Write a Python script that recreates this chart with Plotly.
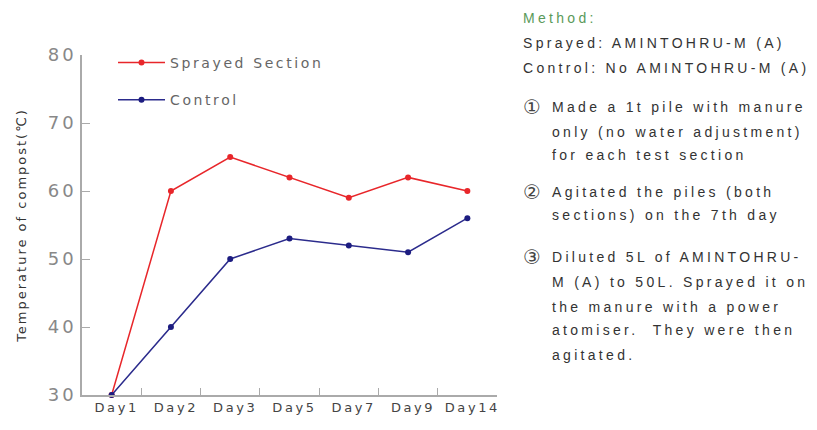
import plotly.graph_objects as go

days = ["Day1", "Day2", "Day3", "Day5", "Day7", "Day9", "Day14"]
sprayed = [30, 60, 65, 62, 59, 62, 60]
control = [30, 40, 50, 53, 52, 51, 56]
y_ticks = [30, 40, 50, 60, 70, 80]

method_title = "Method:"
method_lines = [
    ("", "Sprayed: AMINTOHRU-M (A)", 43),
    ("", "Control: No AMINTOHRU-M (A)", 68),
    ("①", "Made a 1t pile with manure", 107),
    ("", "only (no water adjustment)", 132),
    ("", "for each test section", 155),
    ("②", "Agitated the piles (both", 192),
    ("", "sections) on the 7th day", 215),
    ("③", "Diluted 5L of AMINTOHRU-", 257),
    ("", "M (A) to 50L. Sprayed it on", 282),
    ("", "the manure with a power", 307),
    ("", "atomiser.  They were then", 330),
    ("", "agitated.", 355),
]

W, H = 817, 430
L, R, T, B = 82, 497, 55, 395
FONT = "DejaVu Sans"
NOTE_FONT = "Liberation Sans"

fig = go.Figure()
fig.add_trace(go.Scatter(x=days, y=sprayed, name="Sprayed Section", mode="lines+markers",
                         line=dict(color="#e8262a", width=1.5),
                         marker=dict(color="#e8262a", size=6, symbol="circle"),
                         cliponaxis=False, legendgroup="a"))
fig.add_trace(go.Scatter(x=days, y=control, name="Control", mode="lines+markers",
                         line=dict(color="#2b2b8c", width=1.5),
                         marker=dict(color="#1c1c80", size=6, symbol="circle"),
                         cliponaxis=False, legendgroup="b"))


def px(x):
    return (x - L) / (R - L)


def py(y):
    return (B - y) / (B - T)


ann = [dict(text=method_title, x=px(521), y=py(18), xref="paper", yref="paper",
            xanchor="left", yanchor="middle", align="left", showarrow=False,
            font=dict(family=NOTE_FONT, size=14, color="#5a9a5a"))]
in_note = False
for mark, txt, yy in method_lines:
    if mark:
        in_note = True
        ann.append(dict(text=mark, x=px(521), y=py(yy), xref="paper", yref="paper",
                        xanchor="left", yanchor="middle", align="left", showarrow=False,
                        font=dict(family=FONT, size=20, color="#444444")))
    x0 = 550 if in_note else 521
    ann.append(dict(text=txt.replace("  ", "&nbsp; "), x=px(x0), y=py(yy),
                    xref="paper", yref="paper", xanchor="left", yanchor="middle",
                    align="left", showarrow=False,
                    font=dict(family=NOTE_FONT, size=14, color="#333333")))

fig.update_layout(
    width=W, height=H,
    margin=dict(l=L, r=W - R, t=T, b=H - B, pad=0),
    paper_bgcolor="white", plot_bgcolor="white",
    showlegend=True,
    legend=dict(x=px(113), y=py(47), xanchor="left", yanchor="top",
                font=dict(family=FONT, size=14, color="#666666"),
                itemwidth=47,
                tracegroupgap=16, bgcolor="rgba(0,0,0,0)"),
    annotations=ann,
    xaxis=dict(range=[-0.5, 6.5], showline=True, linecolor="#aaaaaa", linewidth=1.5,
               ticks="inside", tickson="boundaries", ticklen=7, tickcolor="#aaaaaa",
               showgrid=False, zeroline=False, ticklabelshift=5,
               tickfont=dict(family=FONT, size=13, color="#444444")),
    yaxis=dict(range=[30, 80], tickvals=y_ticks, showline=True, linecolor="#aaaaaa",
               linewidth=1.5, ticks="inside", ticklen=8, tickcolor="#aaaaaa",
               showgrid=False, zeroline=False,
               tickfont=dict(family=FONT, size=18, color="#888888"),
               title=dict(text="Temperature of compost(℃)", standoff=24,
                          font=dict(family=FONT, size=13, color="#333333"))),
)

post = """
function tweak(){
  document.body.style.margin='0';
  document.body.style.padding='0';
  var sp = function(sel, v){document.querySelectorAll(sel).forEach(function(t){t.style.letterSpacing=v;});};
  sp('.annotation-text', '3.3px');
  sp('.legendtext', '2.6px');
  sp('.xtick text', '2.6px');
  sp('.ytitle', '2px');
  sp('.ytick text', '3px');
  document.querySelectorAll('.legend [clip-path], .annotation [clip-path]').forEach(function(e){e.removeAttribute('clip-path');});
}
tweak();
setTimeout(tweak, 50);
"""

fig.write_html("out.html", post_script=post, config={"displayModeBar": False})
